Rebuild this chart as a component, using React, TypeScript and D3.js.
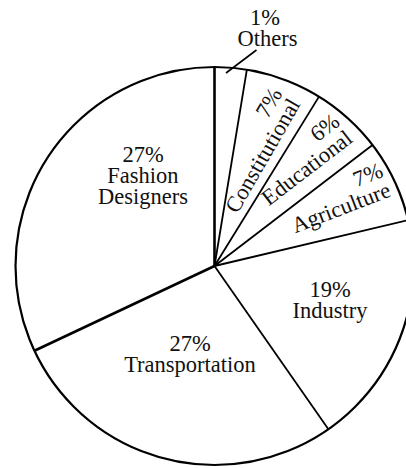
import React from "react";
import * as d3 from "d3";

// Data
const categories = ["Others", "Constitutional", "Educational", "Agriculture", "Industry", "Transportation", "Fashion Designers"];
const labelPercents = ["1%", "7%", "6%", "7%", "19%", "27%", "27%"];
// Drawn shares of the circle
const sliceShares = [2.6, 6.2, 5.8, 6.7, 19.0, 27.7, 32.0];

const W = 406;
const H = 468;
const CX = 214.5;
const CY = 266;
const R = 199;
const FONT = "Liberation Serif, DejaVu Serif, serif";
const FS = 22.5;
const LH = 21;

export default function App() {
  const pie = d3
    .pie<number>()
    .sort(null)
    .startAngle(0)
    .endAngle(2 * Math.PI)
    .value((d) => d);
  const arcs = pie(sliceShares);
  const arcGen = d3.arc<d3.PieArcDatum<number>>().innerRadius(0).outerRadius(R);

  const boundaries = arcs.map((a, i) => ({ angle: a.startAngle, thick: i === 0 || i === 6 }));
  const pt = (ang: number, r: number) => [Math.sin(ang) * r, -Math.cos(ang) * r];

  const tp = { fontFamily: FONT, fontSize: FS, fill: "#111" };

  const horiz = [
    { i: 6, x: 143, y: 162, lines: [labelPercents[6], "Fashion", "Designers"] },
    { i: 4, x: 330, y: 297, lines: [labelPercents[4], categories[4]] },
    { i: 5, x: 190, y: 351, lines: [labelPercents[5], categories[5]] },
  ];
  const rotated = [
    { i: 1, x: 301, y: 104, rot: -60 },
    { i: 2, x: 354, y: 141, rot: -37.5 },
    { i: 3, x: 392, y: 196, rot: -21 },
  ];

  return (
    <svg
      width={W}
      height={H}
      style={{ position: "absolute", left: 0, top: 0, background: "#fff" }}
    >
      <g transform={`translate(${CX},${CY})`}>
        {arcs.map((a, i) => (
          <path key={i} d={arcGen(a) || ""} fill="#fff" stroke="none" />
        ))}
        {boundaries.map((b, i) => {
          const [x, y] = pt(b.angle, R);
          return (
            <line key={i} x1={0} y1={0} x2={x} y2={y} stroke="#000" strokeWidth={b.thick ? 2.6 : 1.8} />
          );
        })}
        <circle r={R} fill="none" stroke="#000" strokeWidth={2.2} />
      </g>

      {horiz.map((h) =>
        h.lines.map((l, k) => (
          <text key={`${h.i}-${k}`} x={h.x} y={h.y + k * LH} textAnchor="middle" {...tp}>
            {l}
          </text>
        ))
      )}

      {rotated.map((r) => (
        <g key={r.i} transform={`translate(${r.x},${r.y}) rotate(${r.rot})`}>
          <text x={0} y={-LH} textAnchor="end" {...tp}>
            {labelPercents[r.i]}
          </text>
          <text x={0} y={0} textAnchor="end" {...tp}>
            {categories[r.i]}
          </text>
        </g>
      ))}

      <text x={265} y={25} textAnchor="middle" {...tp}>{labelPercents[0]}</text>
      <text x={267.5} y={46} textAnchor="middle" {...tp}>{categories[0]}</text>
      <line x1={256.5} y1={50} x2={226} y2={73} stroke="#000" strokeWidth={1.6} />
    </svg>
  );
}
